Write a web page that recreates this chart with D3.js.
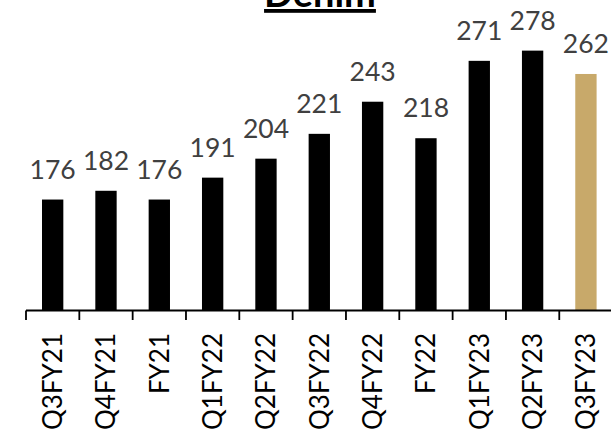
<!DOCTYPE html>
<html>
<head>
<meta charset="utf-8">
<script src="https://cdn.jsdelivr.net/npm/d3@7"></script>
<style>
  html, body { margin: 0; padding: 0; background: #fff; }
  svg { display: block; }
</style>
</head>
<body>
<svg id="chart" width="611" height="436"></svg>
<script>
const title = "Denim";
const categories = ["Q3FY21","Q4FY21","FY21","Q1FY22","Q2FY22","Q3FY22","Q4FY22","FY22","Q1FY23","Q2FY23","Q3FY23"];
const values = [176, 182, 176, 191, 204, 221, 243, 218, 271, 278, 262];
const highlight = ["Q3FY23"];
const yDomain = [100, 300];

const svg = d3.select("#chart");
const x = d3.scaleBand().domain(categories).range([26, 612.6]).paddingInner(0.6).paddingOuter(0.3);
const y = d3.scaleLinear().domain(yDomain).range([310.5, 18.5]);

// bars
svg.append("g").selectAll("rect").data(categories).join("rect")
  .attr("x", d => x(d))
  .attr("width", x.bandwidth())
  .attr("y", (d, i) => y(values[i]))
  .attr("height", (d, i) => y(yDomain[0]) - y(values[i]))
  .attr("fill", d => highlight.includes(d) ? "#C8A96A" : "#000000");

// value labels
svg.append("g").selectAll("text").data(categories).join("text")
  .attr("x", d => x(d) + x.bandwidth() / 2)
  .attr("y", (d, i) => y(values[i]) - 21)
  .attr("text-anchor", "middle")
  .style("font-family", "Lato, 'Open Sans', sans-serif")
  .style("font-size", "26.5px")
  .attr("fill", "#404040")
  .text((d, i) => values[i]);

// axis line with ticks at band boundaries
const step = x.step();
const boundaries = d3.range(categories.length + 1).map(i => x.range()[0] + i * step);
const axisG = svg.append("g");
axisG.append("line")
  .attr("x1", x.range()[0]).attr("x2", 611)
  .attr("y1", y(yDomain[0])).attr("y2", y(yDomain[0]))
  .attr("stroke", "#000").attr("stroke-width", 1.8);
axisG.selectAll("line.tick").data(boundaries).join("line")
  .attr("class", "tick")
  .attr("x1", d => d).attr("x2", d => d)
  .attr("y1", y(yDomain[0])).attr("y2", y(yDomain[0]) + 9.5)
  .attr("stroke", "#000").attr("stroke-width", 1.8);

// category labels
svg.append("g").selectAll("text").data(categories).join("text")
  .attr("transform", d => `translate(${x(d) + x.bandwidth() / 2},333) rotate(-90)`)
  .attr("text-anchor", "end")
  .attr("dy", "0.36em")
  .style("font-family", "Lato, 'Open Sans', sans-serif")
  .style("font-size", "26px")
  .attr("fill", "#000")
  .text(d => d);

// title
svg.append("text")
  .attr("x", 320)
  .attr("y", 7)
  .attr("text-anchor", "middle")
  .style("font-family", "Lato, 'Open Sans', sans-serif")
  .style("font-size", "38px")
  .style("font-weight", "bold")
  .style("text-decoration", "underline")
  .attr("fill", "#000")
  .text(title);
</script>
</body>
</html>
